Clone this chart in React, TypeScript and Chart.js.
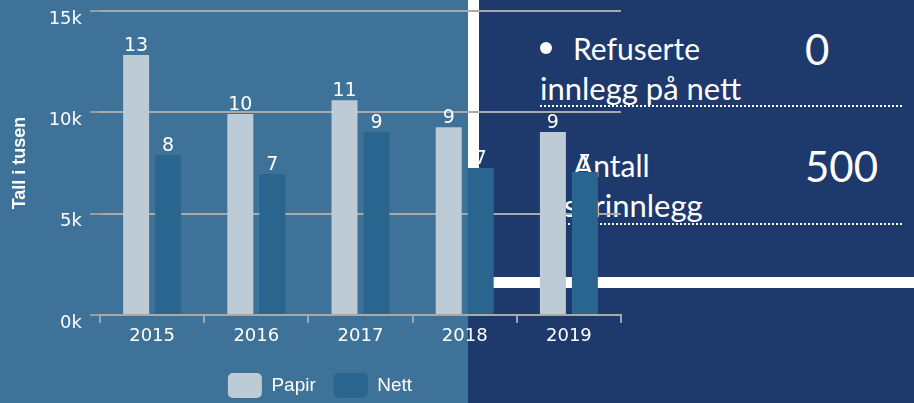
import { useEffect, useRef } from 'react';
import { Chart, registerables } from 'chart.js';

Chart.register(...registerables);

const years = ['2015', '2016', '2017', '2018', '2019'];
const papirValues = [12830, 9920, 10600, 9270, 9030];
const nettValues = [7890, 6960, 9030, 7250, 7050];
const seriesNames = ['Papir', 'Nett'];
const yMin = 0;
const yMax = 15000;
const yStep = 5000;
const yTitle = 'Tall i tusen';

const infoFirstLines = ['Refuserte', 'Antall'];
const infoSecondLines = ['innlegg på nett', 'leserinnlegg'];
const infoValues = ['0', '500'];

const PAPIR_COLOR = '#bccbd6';
const NETT_COLOR = '#29658f';
const LEFT_BG = '#3e7299';
const RIGHT_BG = '#1e396b';

const valueLabels = {
  id: 'valueLabels',
  afterDatasetsDraw(chart: any) {
    const ctx = chart.ctx;
    ctx.save();
    ctx.fillStyle = '#ffffff';
    ctx.font = '19px "DejaVu Sans"';
    ctx.textAlign = 'center';
    ctx.textBaseline = 'alphabetic';
    chart.data.datasets.forEach((ds: any, i: number) => {
      const meta = chart.getDatasetMeta(i);
      meta.data.forEach((el: any, j: number) => {
        const v = ds.data[j] as number;
        ctx.fillText(String(Math.round(v / 1000)), el.x, el.y - 4);
      });
    });
    ctx.restore();
  },
};

function BarChart() {
  const ref = useRef<HTMLCanvasElement | null>(null);
  useEffect(() => {
    if (!ref.current) return;
    const chart = new Chart(ref.current, {
      type: 'bar',
      data: {
        labels: years,
        datasets: [
          { label: seriesNames[0], data: papirValues, backgroundColor: PAPIR_COLOR, borderWidth: 0 },
          { label: seriesNames[1], data: nettValues, backgroundColor: NETT_COLOR, borderWidth: 0 },
        ],
      },
      options: {
        responsive: false,
        animation: false,
        devicePixelRatio: 1,
        layout: { padding: { top: 11, left: 0, right: 0, bottom: 0 } },
        datasets: { bar: { categoryPercentage: 0.614, barPercentage: 0.8125 } },
        plugins: {
          tooltip: { enabled: false },
          legend: {
            position: 'bottom',
            labels: {
              color: '#ffffff',
              boxWidth: 34,
              boxHeight: 25,
              useBorderRadius: true,
              borderRadius: 5,
              padding: 18,
              font: { family: '"Liberation Sans", Arial, sans-serif', size: 19 },
            },
          },
        },
        scales: {
          x: {
            grid: {
              drawOnChartArea: false,
              drawTicks: true,
              tickLength: 8,
              color: '#a3a3a3',
              lineWidth: 2,
            },
            border: { display: true, color: '#a9a9a9', width: 2 },
            ticks: {
              color: '#ffffff',
              padding: 3,
              font: { family: '"DejaVu Sans"', size: 18 },
            },
            afterFit: (s: any) => {
              s.height = 40;
              s.paddingLeft = 0;
              s.paddingRight = 0;
            },
          },
          y: {
            min: yMin,
            max: yMax,
            grid: {
              color: '#a9a9a9',
              lineWidth: 2,
              tickColor: '#9c9c9c',
              tickLength: 10,
            },
            border: { display: false },
            ticks: {
              stepSize: yStep,
              color: '#ffffff',
              padding: 8,
              labelOffset: 8,
              font: { family: '"DejaVu Sans"', size: 18 },
              callback: (v: any) => `${Number(v) / 1000}k`,
            },
            title: {
              display: true,
              text: yTitle,
              color: '#ffffff',
              padding: { top: 9, bottom: 4 },
              font: { family: '"Liberation Sans", Arial, sans-serif', size: 18, weight: 'bold' },
            },
            afterFit: (s: any) => {
              s.width = 100;
              s.paddingTop = 0;
              s.paddingBottom = 0;
            },
          },
          yRight: {
            type: 'linear',
            axis: 'y',
            position: 'right',
            display: true,
            grid: { display: false },
            border: { display: false },
            ticks: { display: false },
            afterFit: (s: any) => {
              s.width = 19;
              s.paddingTop = 0;
              s.paddingBottom = 0;
            },
          },
        },
      } as any,
      plugins: [valueLabels],
    });
    return () => chart.destroy();
  }, []);
  return (
    <canvas
      ref={ref}
      width={640}
      height={408}
      style={{ position: 'absolute', left: 0, top: 0, width: 640, height: 408, display: 'block' }}
    />
  );
}

const textBase: any = {
  position: 'absolute',
  margin: 0,
  color: '#ffffff',
  fontFamily: 'Lato, "Open Sans", sans-serif',
  whiteSpace: 'nowrap',
};

export default function App() {
  const itemTops = [0, 117];
  return (
    <div
      style={{
        position: 'fixed',
        left: 0,
        top: 0,
        width: 914,
        height: 403,
        overflow: 'hidden',
        background: RIGHT_BG,
      }}
    >
      <div style={{ position: 'absolute', left: 0, top: 0, width: 468, height: 403, background: LEFT_BG }} />
      <div style={{ position: 'absolute', left: 468, top: 0, width: 11, height: 288, background: '#ffffff' }} />
      <div style={{ position: 'absolute', left: 468, top: 277, width: 446, height: 11, background: '#ffffff' }} />
      {infoFirstLines.map((t, i) => {
        const dy = itemTops[i];
        return (
          <div key={i}>
            <div
              style={{
                position: 'absolute',
                left: 540,
                top: 42 + dy,
                width: 12,
                height: 12,
                borderRadius: '50%',
                background: '#ffffff',
              }}
            />
            <div style={{ ...textBase, left: 573, top: 33 + dy, fontSize: 30, lineHeight: '30px' }}>{t}</div>
            <div style={{ ...textBase, left: 540, top: 73 + dy, fontSize: 31, lineHeight: '31px' }}>
              {infoSecondLines[i]}
            </div>
            <div style={{ ...textBase, left: 805, top: 28 + dy, fontSize: 42, lineHeight: '42px' }}>{infoValues[i]}</div>
            <div
              style={{
                position: 'absolute',
                left: 540,
                top: 105 + dy + (i === 1 ? 1 : 0),
                width: 364,
                height: 2,
                background: 'repeating-linear-gradient(to right, #ffffff 0 2px, transparent 2px 4px)',
              }}
            />
          </div>
        );
      })}
      <BarChart />
    </div>
  );
}
